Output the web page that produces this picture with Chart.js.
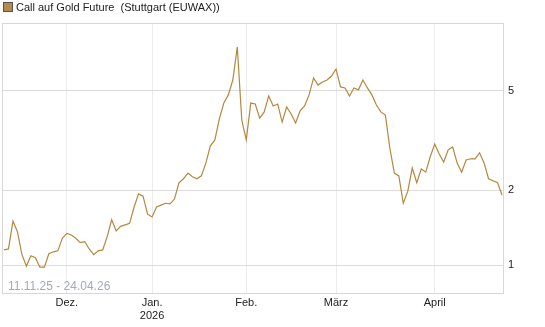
<!DOCTYPE html>
<html>
<head>
<meta charset="utf-8">
<script src="https://cdn.jsdelivr.net/npm/chart.js@4.4.1/dist/chart.umd.min.js"></script>
<style>
  html, body { margin: 0; padding: 0; background: #fff; }
  #wrap { width: 545px; height: 327px; position: relative; }
</style>
</head>
<body>
<div id="wrap"><canvas id="chart" width="545" height="327"></canvas></div>
<script>
// trading days 11.11.25 - 24.04.26, one value per day
const prices = [
  1.15, 1.16, 1.50, 1.36, 1.10, 0.99, 1.09, 1.07, 0.98, 0.98,
  1.11, 1.13, 1.14, 1.28, 1.34, 1.32, 1.28, 1.23, 1.24, 1.16,
  1.10, 1.14, 1.15, 1.30, 1.52, 1.37, 1.43, 1.45, 1.47, 1.71,
  1.93, 1.89, 1.60, 1.56, 1.71, 1.74, 1.77, 1.76, 1.84, 2.14,
  2.22, 2.34, 2.26, 2.22, 2.28, 2.57, 3.01, 3.18, 3.86, 4.47,
  4.82, 5.53, 7.51, 3.82, 3.18, 4.47, 4.43, 3.89, 4.12, 4.77,
  4.35, 4.43, 3.75, 4.31, 4.04, 3.72, 4.16, 4.35, 4.82, 5.64,
  5.28, 5.43, 5.53, 5.74, 6.13, 5.19, 5.14, 4.77, 5.14, 5.05,
  5.53, 5.14, 4.82, 4.39, 4.12, 4.00, 2.95, 2.34, 2.28, 1.77,
  1.98, 2.45, 2.14, 2.43, 2.36, 2.72, 3.06, 2.79, 2.59, 2.90,
  2.98, 2.57, 2.36, 2.64, 2.67, 2.67, 2.82, 2.57, 2.22, 2.18,
  2.14, 1.91
];
// month starts (index of first trading day) and their labels
const monthIdx = [14, 33, 54, 74, 96];
const monthLabels = ['Dez.', ['Jan.', '2026'], 'Feb.', 'März', 'April'];
const yTicks = [1, 2, 5];
const seriesName = 'Call auf Gold Future  (Stuttgart (EUWAX))';
const rangeText = '11.11.25 - 24.04.26';

const lineColor = '#b5873f';
const font = 'Liberation Sans, Arial, sans-serif';

const points = prices.map((v, i) => ({ x: i, y: v }));

const frame = {
  id: 'frame',
  afterDraw(chart) {
    const ctx = chart.ctx;
    const a = chart.chartArea;
    ctx.save();
    ctx.strokeStyle = '#d8d8d8';
    ctx.lineWidth = 1;
    ctx.strokeRect(Math.round(a.left) - 0.5, Math.round(a.top) + 0.5, Math.round(a.right - a.left) + 1, Math.round(a.bottom - a.top));
    // legend
    ctx.fillStyle = '#b48b4e';
    ctx.fillRect(3.5, 2.5, 9, 9);
    ctx.strokeStyle = '#555';
    ctx.strokeRect(3.5, 2.5, 9, 9);
    ctx.fillStyle = '#222';
    ctx.font = '11px ' + font;
    ctx.textBaseline = 'middle';
    ctx.fillText(seriesName, 16, 7.5);
    // date range
    ctx.fillStyle = '#a2aabb';
    ctx.font = '12px ' + font;
    ctx.fillText(rangeText, 8, a.bottom - 6);
    ctx.restore();
  }
};

new Chart(document.getElementById('chart'), {
  type: 'line',
  data: {
    datasets: [{
      label: seriesName,
      data: points,
      borderColor: lineColor,
      borderWidth: 1.2,
      pointRadius: 0,
      tension: 0,
      fill: false
    }]
  },
  options: {
    responsive: false,
    animation: false,
    layout: { padding: { top: 23, left: 3, right: 0, bottom: 0 } },
    plugins: { legend: { display: false }, tooltip: { enabled: false } },
    scales: {
      x: {
        type: 'linear',
        min: -0.22,
        max: 111.22,
        afterBuildTicks: (s) => { s.ticks = monthIdx.map(v => ({ value: v })); },
        afterFit: (s) => { s.height = 34; },
        ticks: {
          autoSkip: false,
          maxRotation: 0,
          padding: 3,
          color: '#222',
          font: { family: font, size: 11 },
          callback: (v) => monthLabels[monthIdx.indexOf(v)]
        },
        grid: { color: '#ececec', drawTicks: false },
        border: { color: '#d8d8d8' }
      },
      y: {
        type: 'logarithmic',
        position: 'right',
        min: 0.772,
        max: 9.37,
        afterBuildTicks: (s) => { s.ticks = yTicks.map(v => ({ value: v })); },
        afterFit: (s) => { s.width = 42; },
        ticks: {
          padding: 5,
          color: '#222',
          font: { family: font, size: 11 },
          callback: (v) => String(v)
        },
        grid: { color: '#dcdcdc', drawTicks: false },
        border: { color: '#d8d8d8' }
      }
    }
  },
  plugins: [frame]
});
</script>
</body>
</html>
